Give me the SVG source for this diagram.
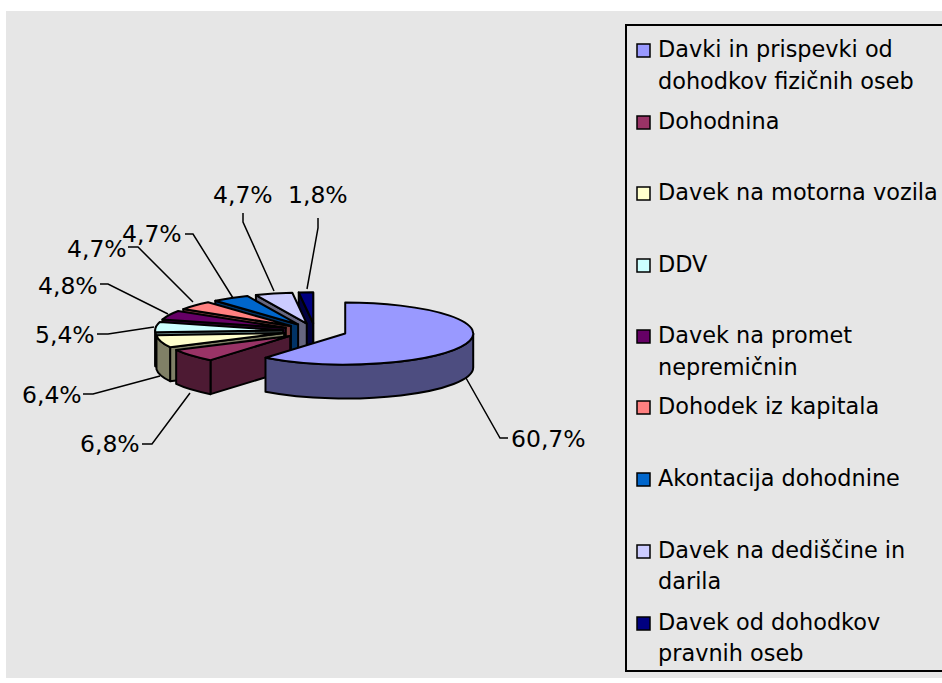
<svg xmlns="http://www.w3.org/2000/svg" width="942" height="683" viewBox="0 0 942 683">
<style>
.face{stroke:#000;stroke-width:2;stroke-linejoin:round}
.lbl{font-family:"DejaVu Sans",Verdana,sans-serif;font-size:23.5px;fill:#000}
.leg{font-family:"DejaVu Sans",Verdana,sans-serif;font-size:22.4px;fill:#000}
.lead{fill:none;stroke:#000;stroke-width:1.5}
.sw{stroke:#000;stroke-width:1.5}
</style>
<rect x="0" y="0" width="942" height="683" fill="#ffffff"/>
<rect x="6" y="11" width="936" height="667" fill="#e6e6e6"/>

<g id="pie">
<g id="slice9">
<path class="face" fill="#000040" d="M 313.19 323.26 L 298.74 292.46 L 298.74 326.46 L 313.19 357.26 Z"/>
<path class="face" fill="#000040" d="M 313.19 292.26 L 313.19 357.26"/>
<path class="face" fill="#000080" d="M 313.19 323.26 L 298.74 292.46 A 128 31 0 0 1 313.19 292.26 Z"/>
</g>
<g id="slice8">
<path class="face" fill="#666680" d="M 306.75 323.51 L 255.91 295.06 L 255.91 329.06 L 306.75 357.51 Z"/>
<path class="face" fill="#ccccff" d="M 306.75 323.51 L 255.91 295.06 A 128 31 0 0 1 292.30 292.71 Z"/>
</g>
<g id="slice7">
<path class="face" fill="#003366" d="M 298.11 324.42 L 215.29 300.78 L 215.29 334.78 L 298.11 358.42 Z"/>
<path class="face" fill="#0066cc" d="M 298.11 324.42 L 215.29 300.78 A 128 31 0 0 1 247.27 295.97 Z"/>
</g>
<g id="slice6">
<path class="face" fill="#804040" d="M 290.93 325.89 L 183.30 309.11 L 183.30 343.11 L 290.93 359.89 Z"/>
<path class="face" fill="#ff8080" d="M 290.93 325.89 L 183.30 309.11 A 128 31 0 0 1 208.11 302.25 Z"/>
</g>
<g id="slice5">
<path class="face" fill="#330033" d="M 285.79 327.83 L 162.43 319.56 L 162.43 353.56 L 285.79 361.83 Z"/>
<path class="face" fill="#660066" d="M 285.79 327.83 L 162.43 319.56 A 128 31 0 0 1 178.16 311.05 Z"/>
</g>
<g id="slice4">
<path class="face" fill="#668080" d="M 283.16 330.22 L 155.47 332.36 L 155.47 366.36 L 283.16 364.22 Z"/>
<path class="face" fill="#668080" d="M 155.47 332.36 A 128 31 0 0 1 155.16 330.22 L 155.16 364.22 A 128 31 0 0 0 155.47 366.36 Z"/>
<path class="face" fill="#ccffff" d="M 283.16 330.22 L 155.47 332.36 A 128 31 0 0 1 159.80 321.95 Z"/>
</g>
<g id="slice3">
<path class="face" fill="#808066" d="M 284.16 333.07 L 170.11 347.14 L 170.11 381.14 L 284.16 367.07 Z"/>
<path class="face" fill="#808066" d="M 170.11 347.14 A 128 31 0 0 1 156.47 335.21 L 156.47 369.21 A 128 31 0 0 0 170.11 381.14 Z"/>
<path class="face" fill="#ffffcc" d="M 284.16 333.07 L 170.11 347.14 A 128 31 0 0 1 156.47 335.21 Z"/>
</g>
<g id="slice2">
<path class="face" fill="#4d1a33" d="M 290.22 335.90 L 210.50 360.15 L 210.50 394.15 L 290.22 369.90 Z"/>
<path class="face" fill="#4d1a33" d="M 210.50 360.15 A 128 31 0 0 1 176.17 349.97 L 176.17 383.97 A 128 31 0 0 0 210.50 394.15 Z"/>
<path class="face" fill="#993366" d="M 290.22 335.90 L 210.50 360.15 A 128 31 0 0 1 176.17 349.97 Z"/>
</g>
<g id="slice1">
<path class="face" fill="#4d4d80" d="M 473.21 333.56 A 128 31 0 0 1 265.49 357.81 L 265.49 391.81 A 128 31 0 0 0 473.21 367.56 Z"/>
<path class="face" fill="#9999ff" d="M 345.21 333.56 L 345.21 302.56 A 128 31 0 1 1 265.49 357.81 Z"/>
</g>
</g>

<g id="connectors">
<polyline class="lead" points="466,378 500,438 508,438"/>
<polyline class="lead" points="190,393 152,444 142,444"/>
<polyline class="lead" points="160,376 93,394 83,394"/>
<polyline class="lead" points="154,327 108,334 97,334"/>
<polyline class="lead" points="168,314 108,284 100,284"/>
<polyline class="lead" points="193,302 138,247 128,247"/>
<polyline class="lead" points="233,298 193,234 185,234"/>
<polyline class="lead" points="274,291 243,222 243,213"/>
<polyline class="lead" points="307,289 318,228 318,218"/>
</g>

<g id="labels">
<text class="lbl" x="511" y="447">60,7%</text>
<text class="lbl" x="80" y="452">6,8%</text>
<text class="lbl" x="22" y="403">6,4%</text>
<text class="lbl" x="35" y="343">5,4%</text>
<text class="lbl" x="38" y="294">4,8%</text>
<text class="lbl" x="67" y="257">4,7%</text>
<text class="lbl" x="122" y="242">4,7%</text>
<text class="lbl" x="213" y="203">4,7%</text>
<text class="lbl" x="288" y="203">1,8%</text>
</g>

<g id="legend">
<rect x="626" y="25" width="330" height="646" fill="#e6e6e6" stroke="#000" stroke-width="2"/>
<g id="leg1"><rect class="sw" x="637" y="44" width="13" height="13" fill="#9999ff"/>
<text class="leg" x="658" y="57">Davki in prispevki od</text><text class="leg" x="658" y="89">dohodkov fizičnih oseb</text></g>
<g id="leg2"><rect class="sw" x="637" y="116" width="13" height="13" fill="#993366"/>
<text class="leg" x="658" y="129">Dohodnina</text></g>
<g id="leg3"><rect class="sw" x="637" y="187" width="13" height="13" fill="#ffffcc"/>
<text class="leg" x="658" y="200">Davek na motorna vozila</text></g>
<g id="leg4"><rect class="sw" x="637" y="259" width="13" height="13" fill="#ccffff"/>
<text class="leg" x="658" y="272">DDV</text></g>
<g id="leg5"><rect class="sw" x="637" y="330" width="13" height="13" fill="#660066"/>
<text class="leg" x="658" y="343">Davek na promet</text><text class="leg" x="658" y="375">nepremičnin</text></g>
<g id="leg6"><rect class="sw" x="637" y="401" width="13" height="13" fill="#ff8080"/>
<text class="leg" x="658" y="414">Dohodek iz kapitala</text></g>
<g id="leg7"><rect class="sw" x="637" y="473" width="13" height="13" fill="#0066cc"/>
<text class="leg" x="658" y="486">Akontacija dohodnine</text></g>
<g id="leg8"><rect class="sw" x="637" y="545" width="13" height="13" fill="#ccccff"/>
<text class="leg" x="658" y="558">Davek na dediščine in</text><text class="leg" x="658" y="589">darila</text></g>
<g id="leg9"><rect class="sw" x="637" y="617" width="13" height="13" fill="#000080"/>
<text class="leg" x="658" y="630">Davek od dohodkov</text><text class="leg" x="658" y="661">pravnih oseb</text></g>
</g>
</svg>
